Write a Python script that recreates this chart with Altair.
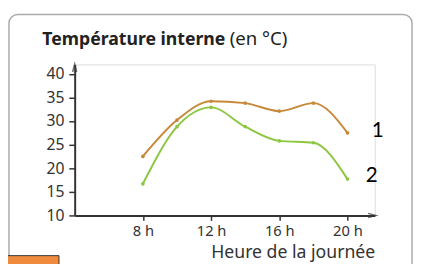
import altair as alt
import pandas as pd

hours = [8, 10, 12, 14, 16, 18, 20]
serie1 = [22.5, 30.2, 34.2, 33.8, 32.1, 33.8, 27.5]
serie2 = [16.7, 28.8, 32.9, 28.8, 25.8, 25.4, 17.7]
series_names = ["1", "2"]
colors = ["#c8883a", "#8dc640"]
x_ticks = [8, 12, 16, 20]
y_ticks = [10, 15, 20, 25, 30, 35, 40]
title_bold = "Température interne"
title_normal = "(en °C)"
x_title = "Heure de la journée"

df = pd.DataFrame({
    "h": hours + hours,
    "t": serie1 + serie2,
    "s": [series_names[0]] * len(hours) + [series_names[1]] * len(hours),
})

FONT = "Noto Sans"
xs = alt.Scale(domain=[4, 21.6], nice=False, zero=False)
ys = alt.Scale(domain=[10, 42], nice=False, zero=False)
cs = alt.Scale(domain=series_names, range=colors)

xaxis = alt.Axis(values=x_ticks, labelExpr="datum.value + ' h'", title=x_title,
                 grid=False, domainColor="#333", domainWidth=2, tickColor="#333",
                 tickWidth=1.5, tickSize=5, labelPadding=15, labelBaseline="alphabetic",
                 labelOverlap=False, labelFlush=False,
                 labelFont=FONT, labelFontSize=15, labelColor="#333",
                 titleFont=FONT, titleFontSize=18, titleFontWeight="normal", titleColor="#333",
                 titleX=306, titleY=43, titleAlign="right", titleBaseline="alphabetic")
yaxis = alt.Axis(values=y_ticks, title=None, grid=False, domainColor="#333", domainWidth=2,
                 tickColor="#333", tickWidth=1.5, tickSize=6, labelPadding=5,
                 labelOverlap=False, labelFlush=False,
                 labelFont=FONT, labelFontSize=16, labelColor="#333")

base = alt.Chart(df)
lines = base.mark_line(interpolate="monotone", strokeWidth=2).encode(
    x=alt.X("h:Q", scale=xs, axis=xaxis),
    y=alt.Y("t:Q", scale=ys, axis=yaxis),
    color=alt.Color("s:N", scale=cs, legend=None),
)
points = base.mark_circle(size=14, opacity=1).encode(
    x=alt.X("h:Q", scale=xs, axis=xaxis),
    y=alt.Y("t:Q", scale=ys, axis=yaxis),
    color=alt.Color("s:N", scale=cs, legend=None),
)

one = alt.Chart(pd.DataFrame({"a": [0]}))
frame = one.mark_rect(cornerRadius=9, fill=None, fillOpacity=0, stroke="#aaaaaa", strokeWidth=1.5).encode(
    x=alt.value(-67), x2=alt.value(344), y=alt.value(-51), y2=alt.value(260))
orange_box = one.mark_rect(fill="#f08a3c", stroke="#333", strokeWidth=1).encode(
    x=alt.value(-70), x2=alt.value(-16), y=alt.value(195), y2=alt.value(210))
arrow_y = one.mark_point(shape="M-0.5,0.9L0,-1L0.5,0.9", size=70, filled=False,
                         stroke="#333", strokeWidth=1.5).encode(x=alt.value(0), y=alt.value(4))
arrow_x = one.mark_point(shape="M-0.9,-0.5L1,0L-0.9,0.5", size=70, filled=False,
                         stroke="#333", strokeWidth=1.5).encode(x=alt.value(303), y=alt.value(154))
t1 = one.mark_text(align="left", baseline="alphabetic", font=FONT, fontSize=18,
                   fontWeight="bold", color="#222").encode(
    x=alt.value(-33), y=alt.value(-20), text=alt.value(title_bold))
t2 = one.mark_text(align="left", baseline="alphabetic", font=FONT, fontSize=19,
                   color="#222").encode(
    x=alt.value(158), y=alt.value(-20), text=alt.value(title_normal))
lab1 = one.mark_text(align="center", baseline="alphabetic", font="Lato", fontSize=21,
                     color="#000").encode(x=alt.value(309), y=alt.value(74), text=alt.value(series_names[0]))
lab2 = one.mark_text(align="center", baseline="alphabetic", font="Lato", fontSize=21,
                     color="#000").encode(x=alt.value(303), y=alt.value(120), text=alt.value(series_names[1]))

chart = alt.layer(frame, orange_box, lines, points, arrow_y, arrow_x, t1, t2, lab1, lab2).properties(
    width=306, height=154,
    padding={"left": 68, "top": 55, "right": 40, "bottom": 47},
    autosize=alt.AutoSizeParams(type="none"),
).configure_view(stroke=None).configure(background="white")

chart.save("out.html", embed_options={"renderer": "svg", "actions": False})
